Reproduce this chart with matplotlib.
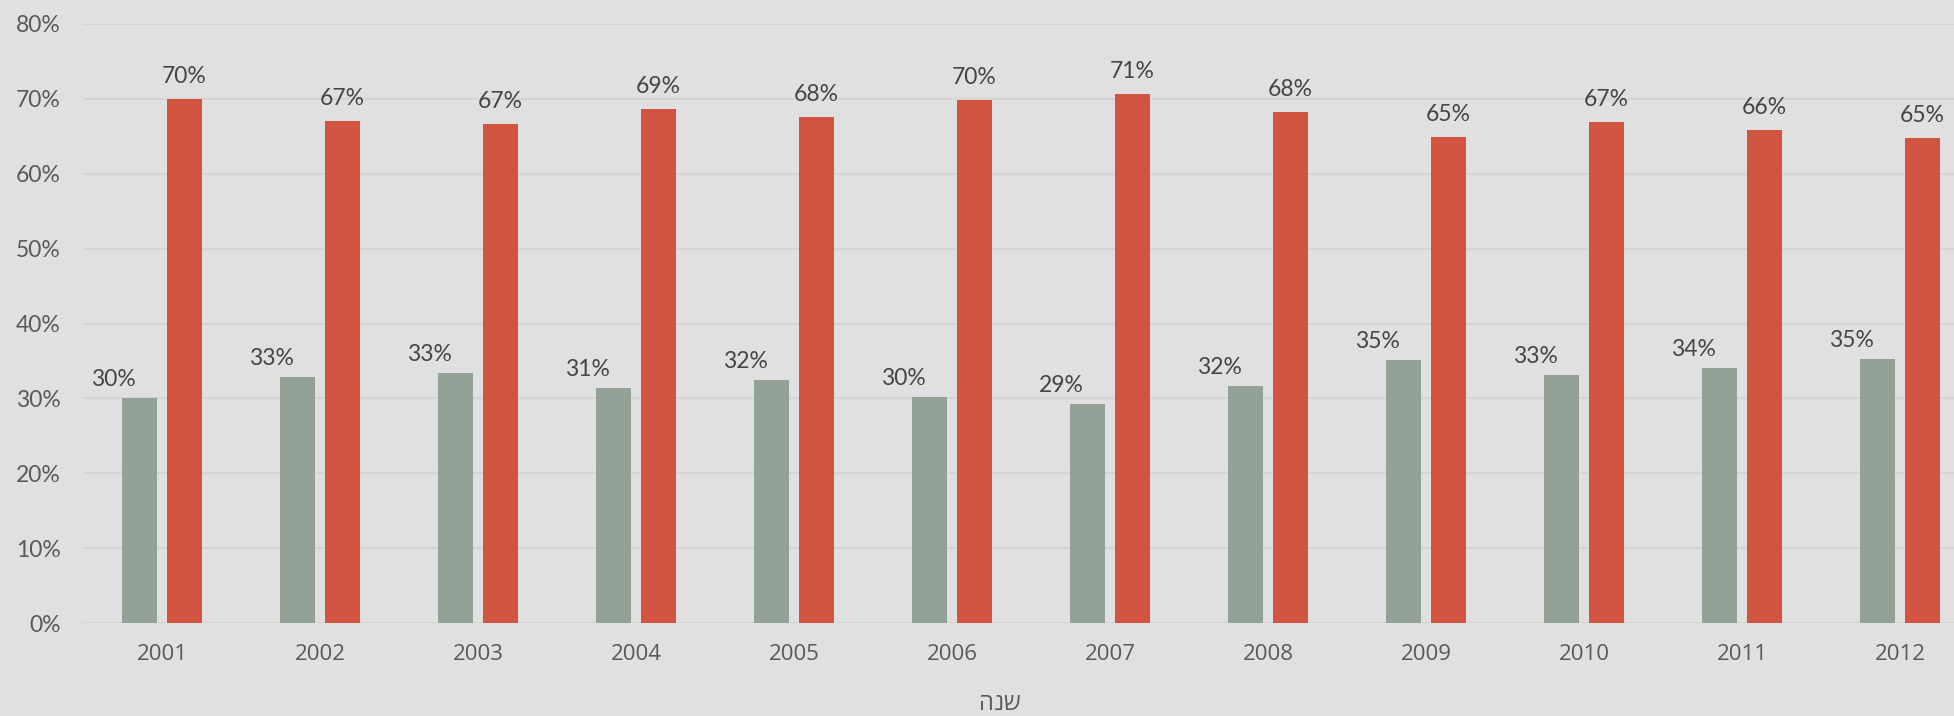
import matplotlib
matplotlib.use("Agg")
import matplotlib.pyplot as plt
import numpy as np

years = ["2001", "2002", "2003", "2004", "2005", "2006", "2007", "2008", "2009", "2010", "2011", "2012"]
grey_vals = [30.0, 32.9, 33.4, 31.4, 32.4, 30.2, 29.3, 31.7, 35.1, 33.1, 34.1, 35.2]
red_vals = [70.0, 67.1, 66.6, 68.6, 67.6, 69.8, 70.7, 68.3, 64.9, 66.9, 65.9, 64.8]
grey_labels = ["30%", "33%", "33%", "31%", "32%", "30%", "29%", "32%", "35%", "33%", "34%", "35%"]
red_labels = ["70%", "67%", "67%", "69%", "68%", "70%", "71%", "68%", "65%", "67%", "66%", "65%"]
yticks = [0, 10, 20, 30, 40, 50, 60, 70, 80]
ytick_labels = ["0%", "10%", "20%", "30%", "40%", "50%", "60%", "70%", "80%"]
xlabel = "שנה"

BG = "#e0e0e0"
GREY = "#93a297"
RED = "#d05440"

fig = plt.figure(figsize=(19.54, 7.16), dpi=100, facecolor=BG)
ax = fig.add_axes([83/1954, 93/716, 1 - 83/1954, (623-24)/716])
ax.set_facecolor(BG)

x = np.arange(len(years))
w = 35/158
off = 22.5/158
ax.bar(x - off, grey_vals, width=w, color=GREY, zorder=3)
ax.bar(x + off, red_vals, width=w, color=RED, zorder=3)

lab_font = ["Lato", "DejaVu Sans"]
for xi, v, t in zip(x, grey_vals, grey_labels):
    ax.annotate(t, (xi - off, v), xytext=(-26*0.72, 12*0.72), textcoords="offset points",
                ha="center", va="baseline", fontsize=16.5, color="#454545",
                family=lab_font)
for xi, v, t in zip(x, red_vals, red_labels):
    ax.annotate(t, (xi + off, v), xytext=(0, 16*0.72), textcoords="offset points",
                ha="center", va="baseline", fontsize=16.5, color="#454545",
                family=lab_font)

ax.set_xlim(-0.5, (1954-162)/158)
ax.set_ylim(0, 80)
ax.set_yticks(yticks)
ax.set_yticklabels(ytick_labels, fontsize=16.5, color="#5a5a5a", family=lab_font)
ax.set_xticks(x)
ax.set_xticklabels(years, fontsize=16, color="#595959", family=["Open Sans", "DejaVu Sans"])
ax.tick_params(axis="both", length=0)
ax.tick_params(axis="y", pad=16)
ax.tick_params(axis="x", pad=15)
for s in ax.spines.values():
    s.set_visible(False)
ax.grid(axis="y", color="#d4d4d4", linewidth=1.5, zorder=0)
ax.set_axisbelow(True)

# matplotlib lays glyphs out left-to-right; reverse so the Hebrew word reads right-to-left
fig.text(1000/1954, 1 - 704/716, xlabel[::-1], ha="center", va="center", fontsize=17,
         color="#595959", family=["Open Sans", "DejaVu Sans"])

fig.savefig("out.png", dpi=100, facecolor=BG)
